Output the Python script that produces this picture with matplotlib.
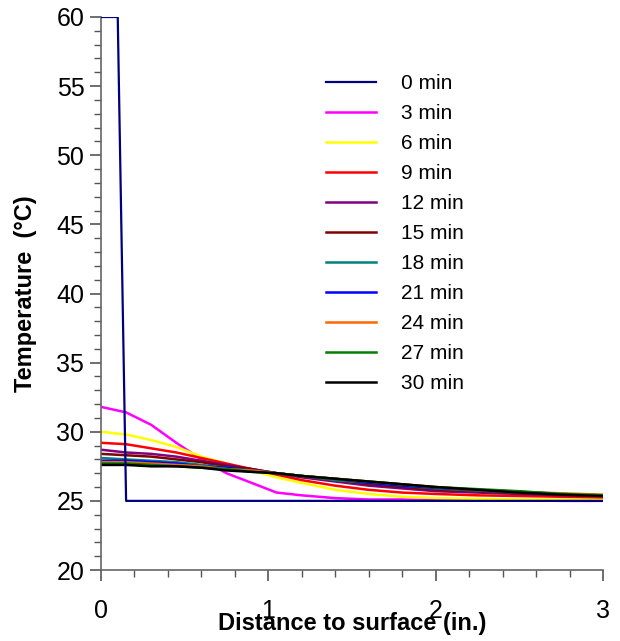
import matplotlib
matplotlib.use("Agg")
import matplotlib.pyplot as plt
from matplotlib.ticker import MultipleLocator

plt.rcParams['font.family'] = ['Liberation Sans', 'DejaVu Sans']

# 0 min profile (initial step)
x_init = [0.0, 0.1, 0.15, 3.0]
t_init = [60.0, 60.0, 25.0, 25.0]

# distance grid for the later profiles (in.)
x = [0, 0.15, 0.3, 0.45, 0.6, 0.75, 0.9, 1.05, 1.2, 1.4, 1.6, 1.8, 2.0, 2.25, 2.5, 2.75, 3.0]

t_3 = [31.8, 31.4, 30.5, 29.2, 28.0, 27.0, 26.3, 25.6, 25.4, 25.2, 25.1, 25.1, 25.05, 25.05, 25.05, 25.0, 25.0]
t_6 = [30.0, 29.8, 29.4, 28.9, 28.2, 27.7, 27.2, 26.7, 26.3, 25.8, 25.5, 25.3, 25.2, 25.15, 25.1, 25.1, 25.1]
t_9 = [29.2, 29.1, 28.8, 28.5, 28.1, 27.7, 27.3, 26.9, 26.5, 26.1, 25.8, 25.6, 25.5, 25.4, 25.35, 25.3, 25.25]
t_12 = [28.7, 28.5, 28.4, 28.2, 27.9, 27.6, 27.3, 27.0, 26.7, 26.4, 26.1, 25.9, 25.7, 25.6, 25.5, 25.4, 25.35]
t_15 = [28.4, 28.3, 28.2, 28.0, 27.8, 27.5, 27.3, 27.0, 26.8, 26.5, 26.2, 26.0, 25.8, 25.7, 25.55, 25.45, 25.4]
t_18 = [28.1, 28.0, 27.9, 27.8, 27.6, 27.4, 27.2, 27.0, 26.8, 26.5, 26.3, 26.1, 25.9, 25.75, 25.6, 25.5, 25.4]
t_21 = [27.9, 27.9, 27.8, 27.7, 27.5, 27.4, 27.2, 27.0, 26.8, 26.6, 26.3, 26.1, 25.95, 25.8, 25.65, 25.5, 25.4]
t_24 = [27.8, 27.8, 27.7, 27.6, 27.5, 27.3, 27.2, 27.0, 26.8, 26.6, 26.4, 26.2, 26.0, 25.8, 25.65, 25.55, 25.45]
t_27 = [27.7, 27.7, 27.6, 27.5, 27.4, 27.3, 27.1, 27.0, 26.8, 26.6, 26.4, 26.2, 26.0, 25.85, 25.7, 25.5, 25.4]
t_30 = [27.6, 27.6, 27.5, 27.5, 27.4, 27.2, 27.1, 27.0, 26.8, 26.6, 26.4, 26.2, 26.0, 25.8, 25.6, 25.45, 25.35]

labels = ["0 min", "3 min", "6 min", "9 min", "12 min", "15 min",
          "18 min", "21 min", "24 min", "27 min", "30 min"]
colors = ["#000080", "#FF00FF", "#FFFF00", "#FF0000", "#800080", "#800000",
          "#008080", "#0000FF", "#FF6600", "#008000", "#000000"]

profiles = [t_3, t_6, t_9, t_12, t_15, t_18, t_21, t_24, t_27, t_30]

fig = plt.figure(figsize=(6.2, 6.41), dpi=100)
ax = fig.add_axes([101 / 620, 1 - 570 / 641, 502 / 620, 553 / 641])

ax.plot(x_init, t_init, color=colors[0], lw=1.6, label=labels[0], zorder=3)
for t, c, lab in zip(profiles, colors[1:], labels[1:]):
    ax.plot(x, t, color=c, lw=1.8, label=lab)

ax.set_xlim(0, 3)
ax.set_ylim(20, 60)
ax.xaxis.set_major_locator(MultipleLocator(1))
ax.xaxis.set_minor_locator(MultipleLocator(0.2))
ax.yaxis.set_major_locator(MultipleLocator(5))
ax.yaxis.set_minor_locator(MultipleLocator(1))

for side in ["top", "right"]:
    ax.spines[side].set_visible(False)
for side in ["left", "bottom"]:
    ax.spines[side].set_color("#666666")
    ax.spines[side].set_linewidth(1.2)

ax.tick_params(which="major", length=8, width=1.2, color="#555555", labelsize=18, pad=4)
ax.tick_params(which="minor", length=5, width=1.0, color="#555555")
ax.tick_params(axis="x", which="major", pad=13)

ax.set_xlabel("Distance to surface (in.)", fontsize=17, fontweight="bold", labelpad=-8)
ax.set_ylabel("Temperature  (°C)", fontsize=17, fontweight="bold", labelpad=14)

ax.legend(loc="upper left", bbox_to_anchor=(326 / 620, 1 - 74 / 641),
          bbox_transform=fig.transFigure, frameon=False, fontsize=15,
          handlelength=2.4, handletextpad=1.2, labelspacing=0.53,
          borderpad=0, borderaxespad=0)

fig.savefig("out.png", dpi=100)
